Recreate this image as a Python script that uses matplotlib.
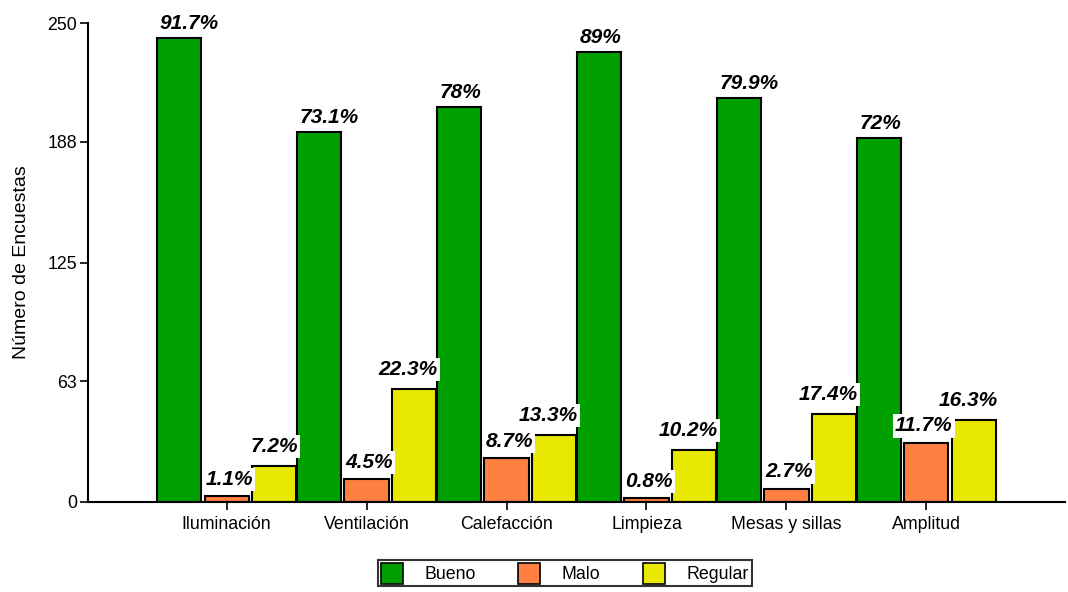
import matplotlib.pyplot as plt
import numpy as np

plt.rcParams['font.family'] = ['Liberation Sans', 'DejaVu Sans']

# survey data
categorias = ['Iluminación', 'Ventilación', 'Calefacción', 'Limpieza', 'Mesas y sillas', 'Amplitud']
bueno = [242, 193, 206, 235, 211, 190]
malo = [3, 12, 23, 2, 7, 31]
regular = [19, 59, 35, 27, 46, 43]
pct_bueno = ['91.7%', '73.1%', '78%', '89%', '79.9%', '72%']
pct_malo = ['1.1%', '4.5%', '8.7%', '0.8%', '2.7%', '11.7%']
pct_regular = ['7.2%', '22.3%', '13.3%', '10.2%', '17.4%', '16.3%']
yticks = [0, 63, 125, 188, 250]

colores = ['#00a000', '#ff8040', '#e8e800']

fig = plt.figure(figsize=(10.68, 5.92), dpi=100)
ax = fig.add_axes([88 / 1068, 90 / 592, 977 / 1068, 479 / 592])

x = np.arange(len(categorias))
w = 0.315
off = 0.34
# (values, labels, name, bar shift, label anchor side, x offset pt, y offset pt)
series = [(bueno, pct_bueno, 'Bueno', -off, 'left', 2, 6.5),
          (malo, pct_malo, 'Malo', 0, 'right', 3, 8),
          (regular, pct_regular, 'Regular', off, 'right', 1, 10)]

for i, (vals, pcts, nombre, dx, lado, xo, yo) in enumerate(series):
    ax.bar(x + dx, vals, width=w, color=colores[i], edgecolor='black',
           linewidth=1.5, label=nombre, zorder=2)
    for xi, v, p in zip(x, vals, pcts):
        xa = xi + dx - w / 2 if lado == 'left' else xi + dx + w / 2
        ax.annotate(p, (xa, v), xytext=(xo, yo), textcoords='offset points',
                    ha=lado, va='baseline', fontsize=15, fontweight='bold',
                    fontstyle='italic', zorder=3,
                    bbox=dict(facecolor='white', edgecolor='none', pad=1.5))

ax.set_xlim(-0.99, 5.99)
ax.set_ylim(0, 250)
ax.set_yticks(yticks)
ax.set_yticklabels([str(t) for t in yticks], fontsize=12.8)
ax.set_xticks(x)
ax.set_xticklabels(categorias, fontsize=12.8)
ax.tick_params(axis='both', direction='out', length=6, width=1.2, pad=4)
ax.tick_params(axis='y', pad=2)
for s in ['top', 'right']:
    ax.spines[s].set_visible(False)
ax.spines['left'].set_linewidth(1.5)
ax.spines['bottom'].set_linewidth(1.5)
ax.set_ylabel('Número de Encuestas', fontsize=14, labelpad=12)

leg = ax.legend(loc='upper center', bbox_to_anchor=(0.488, -0.122), ncol=3,
                fontsize=12.8, frameon=True, fancybox=False, edgecolor='black',
                handlelength=1.25, handleheight=1.4, columnspacing=2.4,
                handletextpad=1.2, borderpad=0.15, borderaxespad=0)
leg.get_frame().set_linewidth(1.5)
for h in leg.legend_handles:
    h.set_linewidth(1.2)

fig.savefig('out.png', dpi=100)
